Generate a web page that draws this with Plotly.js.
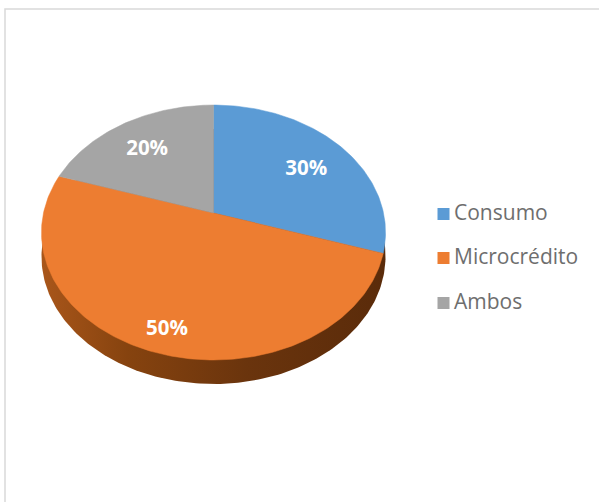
<!DOCTYPE html>
<html>
<head>
<meta charset="utf-8">
<script src="https://cdn.plot.ly/plotly-3.0.1.min.js"></script>
<style>html,body{margin:0;padding:0;background:#fff}#chart{width:599px;height:502px}</style>
</head>
<body>
<div id="chart"></div>
<script>
// Credit types and their shares, in percent
const categories = ['Consumo', 'Microcrédito', 'Ambos'];
const shares = [30, 50, 20];
const colors = ['#5b9bd5', '#ed7d31', '#a5a5a5'];

// Disc geometry in page pixels: perspective-tilted circle
const cx = 213.5, cy = 213, rx = 170, ry = 124.5, tilt = 0.153, depth = 24;
const labelRadius = [0.71, 0.83, 0.70];
const labelNudge = [[1, 6], [3, 5], [-2, 2]];
const keyX = 443.5, keyTextX = 454, keyY = [214, 258, 303], keyTextDrop = 1;

// Projects a clockwise-from-top fraction of the circle onto the tilted disc
function project(frac, r, dy) {
  const t = Math.PI / 2 - frac * 2 * Math.PI;
  const w = 1 + tilt * r * Math.sin(t);
  return [cx + rx * r * Math.cos(t) / w, cy - ry * r * Math.sin(t) / w + (dy || 0)];
}
function arc(from, to, dy) {
  const pts = [];
  const n = Math.max(2, Math.ceil((to - from) * 360));
  for (let i = 0; i <= n; i++) pts.push(project(from + (to - from) * i / n, 1, dy));
  return pts;
}

const total = shares.reduce((a, b) => a + b, 0);
const traces = [];

// Extruded side of the disc, shaded dark from left to right
const rimPts = arc(0, 1, depth);
traces.push({
  type: 'scatter', mode: 'lines', hoverinfo: 'skip', showlegend: false,
  x: rimPts.map(p => p[0]), y: rimPts.map(p => p[1]),
  line: {width: 0}, fill: 'toself',
  fillgradient: {
    type: 'horizontal',
    colorscale: [[0, '#a9561a'], [0.25, '#86430f'], [0.6, '#6a340d'], [1, '#5a2b0a']]
  }
});

// One wedge per category
let cum = 0;
shares.forEach((v, i) => {
  const a = cum / total, b = (cum + v) / total;
  const pts = [[cx, cy]].concat(arc(a, b, 0), [[cx, cy]]);
  traces.push({
    type: 'scatter', mode: 'lines', name: categories[i], showlegend: false,
    x: pts.map(p => p[0]), y: pts.map(p => p[1]),
    line: {width: 0.5, color: colors[i]}, fill: 'toself', fillcolor: colors[i],
    hoverinfo: 'name'
  });
  cum += v;
});

// Percentage labels inside the wedges
cum = 0;
const lab = shares.map((v, i) => {
  const p = project((cum + v / 2) / total, labelRadius[i]);
  cum += v;
  return [p[0] + labelNudge[i][0], p[1] + labelNudge[i][1]];
});
traces.push({
  type: 'scatter', mode: 'text', hoverinfo: 'skip', showlegend: false,
  x: lab.map(p => p[0]), y: lab.map(p => p[1]),
  text: shares.map(v => v + '%'),
  textposition: 'middle center',
  textfont: {family: '"Open Sans", sans-serif', size: 20.5, color: '#ffffff', weight: 700}
});

// Key to the right of the disc: swatches, then their names
traces.push({
  type: 'scatter', mode: 'markers', hoverinfo: 'skip', showlegend: false,
  x: categories.map(() => keyX), y: keyY,
  marker: {symbol: 'square', size: 12, color: colors}
});
traces.push({
  type: 'scatter', mode: 'text', hoverinfo: 'skip', showlegend: false,
  x: categories.map(() => keyTextX), y: keyY.map(v => v + keyTextDrop),
  text: categories,
  textposition: 'middle right',
  textfont: {family: '"Open Sans", sans-serif', size: 21, color: '#6e6e6e'}
});

const layout = {
  width: 599, height: 502,
  margin: {l: 0, r: 0, t: 0, b: 0},
  paper_bgcolor: '#ffffff', plot_bgcolor: '#ffffff',
  showlegend: false,
  xaxis: {range: [0, 599], visible: false, fixedrange: true},
  yaxis: {range: [502, 0], visible: false, fixedrange: true},
  // Only the top and left edges of the chart frame fall inside the page
  shapes: [{
    type: 'rect', xref: 'x', yref: 'y', x0: 5, y0: 9, x1: 620, y1: 530,
    line: {color: '#d9d9d9', width: 1.5}, layer: 'below'
  }]
};

Plotly.newPlot('chart', traces, layout, {displayModeBar: false, staticPlot: true});
</script>
</body>
</html>
